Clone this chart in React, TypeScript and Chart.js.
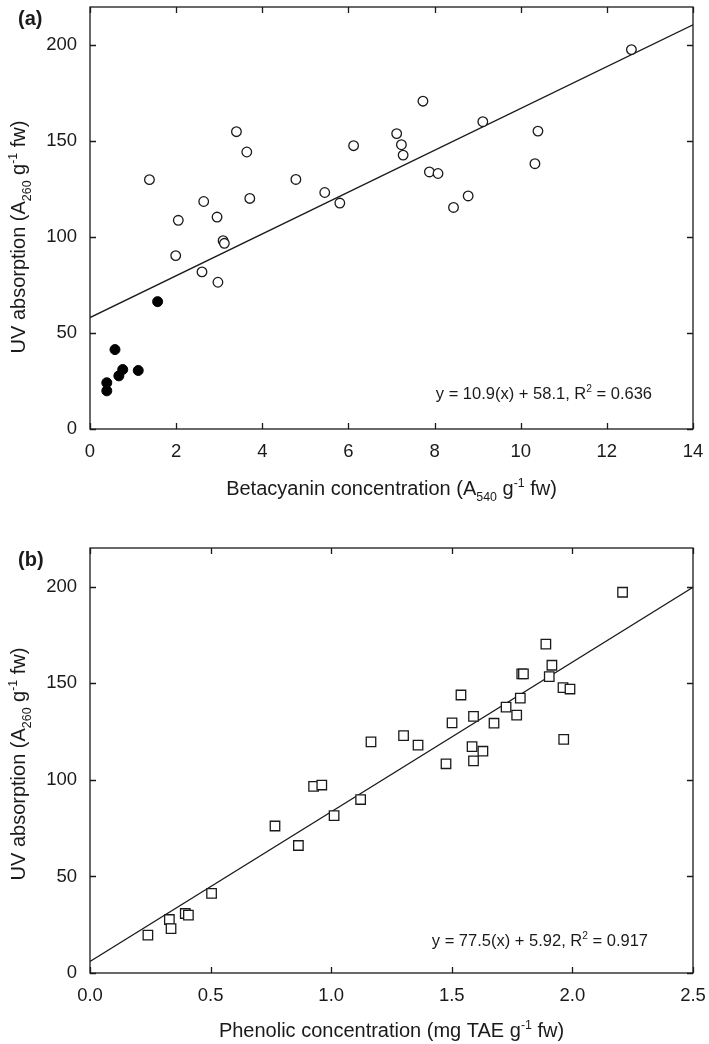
import React, { useEffect, useRef } from "react";
import { Chart, registerables } from "chart.js";
Chart.register(...registerables);

const FONT = '"Liberation Sans", Arial, Helvetica, sans-serif';
const INK = "#1a1a1a";

// Panel (a): betacyanin vs UV absorption
const betaOpenX = [1.38, 3.40, 3.64, 2.64, 2.05, 2.95, 3.71, 4.78, 5.45, 5.80, 6.12, 7.12, 7.23, 7.27, 3.09, 3.12, 1.99, 2.60, 2.97, 7.73, 9.12, 7.88, 8.08, 10.40, 10.33, 8.78, 8.44, 12.57];
const betaOpenY = [130, 155, 144.4, 118.6, 108.8, 110.5, 120.2, 130.1, 123.3, 117.8, 147.7, 154, 148.2, 142.8, 98.2, 96.8, 90.4, 81.9, 76.5, 170.9, 160.2, 134, 133.2, 155.3, 138.3, 121.5, 115.5, 197.8];
const betaFilledX = [1.57, 0.58, 0.76, 0.67, 1.12, 0.39, 0.39];
const betaFilledY = [66.4, 41.4, 31, 27.7, 30.5, 24.1, 19.9];
const fitA = { slope: 10.9, intercept: 58.1, r2: "0.636" };

// Panel (b): phenolics vs UV absorption
const phenolX = [0.240, 0.329, 0.336, 0.395, 0.408, 0.504, 0.767, 0.864, 0.927, 0.961, 1.012, 1.122, 1.165, 1.300, 1.360, 1.476, 1.501, 1.538, 1.584, 1.590, 1.590, 1.629, 1.675, 1.725, 1.769, 1.784, 1.790, 1.797, 1.890, 1.904, 1.915, 1.961, 1.964, 1.990, 2.208];
const phenolY = [19.6, 27.7, 23.0, 30.8, 30.0, 41.2, 76.1, 66.0, 96.6, 97.3, 81.5, 89.8, 119.6, 122.9, 118.0, 108.3, 129.5, 143.9, 117.2, 109.8, 132.8, 114.8, 129.3, 137.6, 133.5, 142.3, 154.8, 154.8, 170.2, 153.4, 159.3, 147.7, 120.9, 147.0, 197.1];
const fitB = { slope: 77.5, intercept: 5.92, r2: "0.917" };

type Seg = { t: string; sub?: boolean; sup?: boolean };

const yTitle: Seg[] = [
  { t: "UV absorption (A" },
  { t: "260", sub: true },
  { t: " g" },
  { t: "-1", sup: true },
  { t: " fw)" },
];
const xTitleA: Seg[] = [
  { t: "Betacyanin concentration (A" },
  { t: "540", sub: true },
  { t: " g" },
  { t: "-1", sup: true },
  { t: " fw)" },
];
const xTitleB: Seg[] = [
  { t: "Phenolic concentration (mg TAE g" },
  { t: "-1", sup: true },
  { t: " fw)" },
];

function drawRich(ctx: CanvasRenderingContext2D, segs: Seg[], x: number, y: number, size: number, align: "left" | "center" | "right") {
  const small = size * 0.62;
  let total = 0;
  const ws: number[] = [];
  for (const s of segs) {
    ctx.font = `${s.sub || s.sup ? small : size}px ${FONT}`;
    const w = ctx.measureText(s.t).width;
    ws.push(w);
    total += w;
  }
  let cx = align === "left" ? x : align === "center" ? x - total / 2 : x - total;
  ctx.textAlign = "left";
  ctx.textBaseline = "alphabetic";
  segs.forEach((s, i) => {
    ctx.font = `${s.sub || s.sup ? small : size}px ${FONT}`;
    const dy = s.sub ? size * 0.3 : s.sup ? -size * 0.42 : 0;
    ctx.fillText(s.t, cx, y + dy);
    cx += ws[i];
  });
}

function framePlugin(opts: { panel: string; panelY: number; xTitle: Seg[]; xTitleY: number; yTitleY: number; eq: Seg[]; eqX: number; eqY: number }) {
  return {
    id: "frame" + opts.panel.replace(/[()]/g, ""),
    afterDraw(chart: any) {
      const ctx: CanvasRenderingContext2D = chart.ctx;
      const a = chart.chartArea;
      const xs = chart.scales.x;
      const ys = chart.scales.y;
      ctx.save();
      ctx.strokeStyle = INK;
      ctx.lineWidth = 1.3;
      ctx.strokeRect(a.left, a.top, a.right - a.left, a.bottom - a.top);
      const tl = 6;
      ctx.beginPath();
      xs.ticks.forEach((t: any) => {
        const px = Math.round(xs.getPixelForValue(t.value)) + 0.5;
        ctx.moveTo(px, a.bottom);
        ctx.lineTo(px, a.bottom - tl);
        ctx.moveTo(px, a.top);
        ctx.lineTo(px, a.top + tl);
      });
      ys.ticks.forEach((t: any) => {
        const py = Math.round(ys.getPixelForValue(t.value)) + 0.5;
        ctx.moveTo(a.left, py);
        ctx.lineTo(a.left + tl, py);
        ctx.moveTo(a.right, py);
        ctx.lineTo(a.right - tl, py);
      });
      ctx.stroke();

      ctx.fillStyle = INK;
      ctx.font = `bold 20px ${FONT}`;
      ctx.textAlign = "left";
      ctx.textBaseline = "alphabetic";
      ctx.fillText(opts.panel, 18, opts.panelY);
      drawRich(ctx, opts.xTitle, (a.left + a.right) / 2, opts.xTitleY, 20, "center");
      ctx.save();
      ctx.translate(25, opts.yTitleY);
      ctx.rotate(-Math.PI / 2);
      drawRich(ctx, yTitle, 0, 0, 20, "center");
      ctx.restore();
      drawRich(ctx, opts.eq, opts.eqX, opts.eqY, 16.5, "right");
      ctx.restore();
    },
  };
}

function makeConfig(
  datasets: any[],
  xMax: number,
  xStep: number,
  xFmt: (v: number) => string,
  padTop: number,
  xAxisH: number,
  plugin: any
) {
  return {
    type: "scatter" as const,
    data: { datasets },
    options: {
      animation: false,
      responsive: false,
      maintainAspectRatio: false,
      devicePixelRatio: 1,
      layout: { padding: { top: padTop, right: 16, left: 0, bottom: 0 } },
      plugins: { legend: { display: false }, tooltip: { enabled: false } },
      scales: {
        x: {
          type: "linear",
          min: 0,
          max: xMax,
          grid: { display: false, drawTicks: false },
          border: { display: false },
          ticks: { stepSize: xStep, includeBounds: false, color: INK, font: { family: FONT, size: 18.5 }, padding: 12, maxRotation: 0, callback: (v: any) => xFmt(Number(v)) },
          afterFit: (s: any) => {
            s.height = xAxisH;
            s.paddingLeft = 0;
            s.paddingRight = 0;
          },
        },
        y: {
          type: "linear",
          min: 0,
          max: 220,
          grid: { display: false, drawTicks: false },
          border: { display: false },
          ticks: { stepSize: 50, includeBounds: false, color: INK, font: { family: FONT, size: 18.5 }, padding: 13 },
          afterFit: (s: any) => {
            s.width = 90;
            s.paddingTop = 0;
            s.paddingBottom = 0;
          },
        },
      },
    },
    plugins: [plugin],
  };
}

function pts(xs: number[], ys: number[]) {
  return xs.map((x, i) => ({ x, y: ys[i] }));
}

function fitLine(fit: { slope: number; intercept: number }, x0: number, x1: number) {
  return [
    { x: x0, y: fit.slope * x0 + fit.intercept },
    { x: x1, y: fit.slope * x1 + fit.intercept },
  ];
}

function eqSegs(fit: { slope: number; intercept: number; r2: string }): Seg[] {
  return [
    { t: `y = ${fit.slope}(x) + ${fit.intercept}, R` },
    { t: "2", sup: true },
    { t: ` = ${fit.r2}` },
  ];
}

export default function App() {
  const refA = useRef<HTMLCanvasElement>(null);
  const refB = useRef<HTMLCanvasElement>(null);

  useEffect(() => {
    const lineStyle = { type: "line", showLine: true, borderColor: INK, borderWidth: 1.3, pointRadius: 0, fill: false, order: 3 };
    const chartA = new Chart(
      refA.current as HTMLCanvasElement,
      makeConfig(
        [
          { ...lineStyle, data: fitLine(fitA, 0, 14) },
          { data: pts(betaOpenX, betaOpenY), pointStyle: "circle", pointRadius: 4.8, pointBorderWidth: 1.3, borderColor: INK, backgroundColor: "#ffffff", order: 1 },
          { data: pts(betaFilledX, betaFilledY), pointStyle: "circle", pointRadius: 5, pointBorderWidth: 1, borderColor: "#000", backgroundColor: "#000", order: 1 },
        ],
        14,
        2,
        (v) => String(v),
        7,
        81,
        framePlugin({ panel: "(a)", panelY: 25, xTitle: xTitleA, xTitleY: 495, yTitleY: 237, eq: eqSegs(fitA), eqX: 652, eqY: 399 })
      ) as any
    );
    const chartB = new Chart(
      refB.current as HTMLCanvasElement,
      makeConfig(
        [
          { ...lineStyle, data: fitLine(fitB, 0, 2.5) },
          { data: pts(phenolX, phenolY), pointStyle: "rect", pointRadius: 6.7, pointBorderWidth: 1.3, borderColor: INK, backgroundColor: "#ffffff", order: 1 },
        ],
        2.5,
        0.5,
        (v) => v.toFixed(1),
        38,
        71,
        framePlugin({ panel: "(b)", panelY: 56, xTitle: xTitleB, xTitleY: 527, yTitleY: 254, eq: eqSegs(fitB), eqX: 648, eqY: 436 })
      ) as any
    );
    return () => {
      chartA.destroy();
      chartB.destroy();
    };
  }, []);

  return (
    <div style={{ position: "absolute", left: 0, top: 0, width: 709, height: 1044, background: "#fff" }}>
      <canvas ref={refA} width={709} height={510} style={{ display: "block", width: 709, height: 510 }} />
      <canvas ref={refB} width={709} height={534} style={{ display: "block", width: 709, height: 534 }} />
    </div>
  );
}
